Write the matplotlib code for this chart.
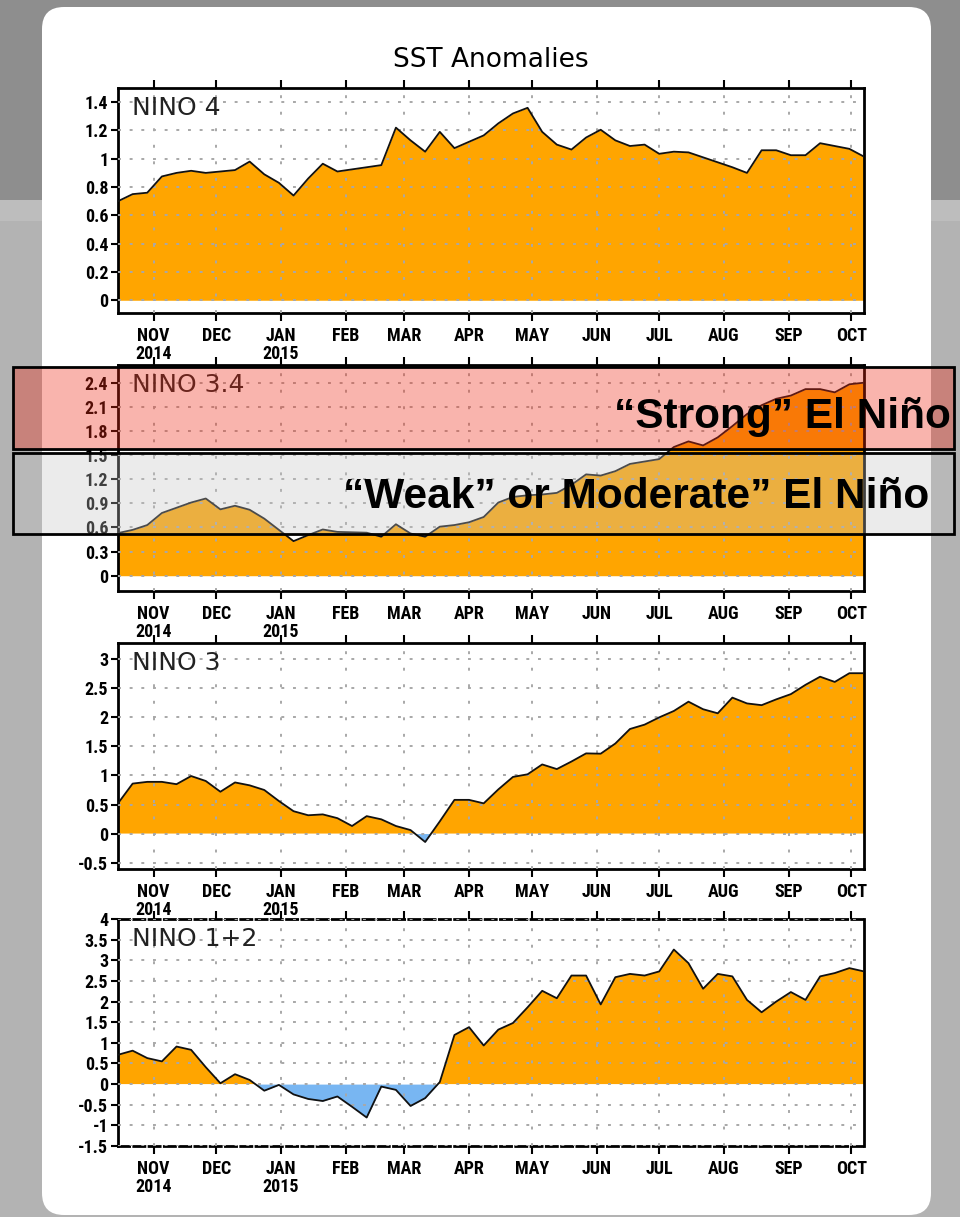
import datetime as dt
import numpy as np
import matplotlib
matplotlib.use("Agg")
from matplotlib import pyplot as plt
from matplotlib import dates as mdates
from matplotlib import font_manager
from matplotlib.patches import Rectangle, FancyBboxPatch

plt.rcParams['axes.unicode_minus'] = False

# weekly OISST anomalies, one value per Wednesday, 15 Oct 2014 .. 7 Oct 2015
first_week = dt.date(2014, 10, 15)
weeks = [first_week + dt.timedelta(days=7 * i) for i in range(52)]

nino4 = [0.70, 0.75, 0.76, 0.875, 0.90, 0.915, 0.90, 0.91, 0.92, 0.98,
         0.89, 0.83, 0.74, 0.86, 0.965, 0.91, 0.925, 0.94, 0.955, 1.22,
         1.13, 1.05, 1.19, 1.075, 1.12, 1.165, 1.25, 1.32, 1.36, 1.19,
         1.10, 1.065, 1.15, 1.205, 1.13, 1.09, 1.10, 1.035, 1.05, 1.045,
         1.01, 0.975, 0.94, 0.90, 1.06, 1.06, 1.025, 1.025, 1.11, 1.09,
         1.07, 1.015]

nino34 = [0.53, 0.57, 0.63, 0.78, 0.845, 0.91, 0.96, 0.825, 0.87, 0.82,
          0.71, 0.57, 0.43, 0.505, 0.575, 0.545, 0.54, 0.535, 0.485, 0.64,
          0.525, 0.485, 0.61, 0.63, 0.665, 0.73, 0.91, 0.98, 1.00, 1.01,
          1.03, 1.13, 1.26, 1.245, 1.30, 1.39, 1.42, 1.45, 1.60, 1.67,
          1.62, 1.72, 1.86, 2.01, 2.12, 2.20, 2.24, 2.32, 2.32, 2.28,
          2.38, 2.40]

nino3 = [0.52, 0.86, 0.89, 0.89, 0.85, 0.99, 0.905, 0.72, 0.88, 0.83,
         0.75, 0.56, 0.385, 0.315, 0.33, 0.265, 0.13, 0.30, 0.245, 0.13,
         0.06, -0.145, 0.21, 0.58, 0.58, 0.52, 0.76, 0.975, 1.02, 1.19,
         1.11, 1.24, 1.38, 1.375, 1.55, 1.80, 1.875, 2.00, 2.11, 2.27,
         2.14, 2.07, 2.34, 2.24, 2.21, 2.31, 2.40, 2.56, 2.70, 2.61,
         2.76, 2.76]

nino12 = [0.71, 0.81, 0.63, 0.55, 0.91, 0.83, 0.41, 0.02, 0.24, 0.10,
          -0.16, -0.02, -0.25, -0.36, -0.41, -0.30, -0.55, -0.81, -0.06, -0.14,
          -0.53, -0.34, 0.05, 1.19, 1.38, 0.935, 1.32, 1.48, 1.86, 2.26,
          2.08, 2.63, 2.63, 1.93, 2.59, 2.67, 2.63, 2.73, 3.26, 2.93,
          2.31, 2.67, 2.61, 2.04, 1.74, 2.00, 2.23, 2.04, 2.61, 2.69,
          2.81, 2.73]

month_ticks = [dt.date(2014, 11, 1), dt.date(2014, 12, 1), dt.date(2015, 1, 1),
               dt.date(2015, 2, 1), dt.date(2015, 3, 1), dt.date(2015, 4, 1),
               dt.date(2015, 5, 1), dt.date(2015, 6, 1), dt.date(2015, 7, 1),
               dt.date(2015, 8, 1), dt.date(2015, 9, 1), dt.date(2015, 10, 1)]
month_labels = ["NOV\n2014", "DEC", "JAN\n2015", "FEB", "MAR", "APR",
                "MAY", "JUN", "JUL", "AUG", "SEP", "OCT"]

ticks4 = [0, 0.2, 0.4, 0.6, 0.8, 1.0, 1.2, 1.4]
ticks34 = [0, 0.3, 0.6, 0.9, 1.2, 1.5, 1.8, 2.1, 2.4]
ticks3 = [-0.5, 0, 0.5, 1, 1.5, 2, 2.5, 3]
ticks12 = [-1.5, -1, -0.5, 0, 0.5, 1, 1.5, 2, 2.5, 3, 3.5, 4]


def pick_font(names):
    for n in names:
        try:
            font_manager.findfont(font_manager.FontProperties(family=n),
                                  fallback_to_default=False)
            return n
        except ValueError:
            pass
    return 'DejaVu Sans'


narrow = pick_font(['Liberation Sans Narrow', 'Roboto Condensed', 'DejaVu Sans Condensed'])
arial = pick_font(['Liberation Sans', 'Arimo', 'DejaVu Sans'])

W, H = 960, 1217
fig = plt.figure(figsize=(W / 100, H / 100), dpi=100)

# background: grey page + white rounded card
bg = fig.add_axes([0, 0, 1, 1], zorder=-10)
bg.set_xlim(0, W)
bg.set_ylim(H, 0)
bg.axis('off')
bg.add_patch(Rectangle((0, 0), W, 200, color='#8e8e8e', lw=0))
bg.add_patch(Rectangle((0, 200), W, 21, color='#bdbdbd', lw=0))
bg.add_patch(Rectangle((0, 221), W, H - 221, color='#b3b3b3', lw=0))
bg.add_patch(FancyBboxPatch((42, 7), 889, 1208, boxstyle="round,pad=0,rounding_size=22",
                            facecolor='white', edgecolor='none'))

panels = [
    ("NINO 4", nino4, ticks4, (-0.09, 1.5), 88, 313),
    ("NINO 3.4", nino34, ticks34, (-0.19, 2.62), 365, 591),
    ("NINO 3", nino3, ticks3, (-0.61, 3.28), 643, 869),
    ("NINO 1+2", nino12, ticks12, (-1.5, 4.0), 919, 1146),
]

x = mdates.date2num(weeks)
xt = mdates.date2num(month_ticks)

for name, vals, yt, ylim, top, bottom in panels:
    ax = fig.add_axes([118 / W, 1 - bottom / H, 746 / W, (bottom - top) / H])
    ax.set_facecolor('white')
    v = np.array(vals)
    ax.fill_between(x, v, 0, where=v >= 0, interpolate=True, color='#ffa500', lw=0, zorder=1)
    ax.fill_between(x, v, 0, where=v <= 0, interpolate=True, color='#78b6f2', lw=0, zorder=1)
    ax.plot(x, v, color='#111111', lw=1.3, zorder=3)

    ax.set_xlim(x[0], x[-1])
    ax.set_ylim(*ylim)
    ax.set_xticks(xt)
    ax.set_xticklabels(month_labels, linespacing=1.0)
    ax.set_yticks(yt)
    ax.set_yticklabels([f'{t:g}' for t in yt])
    ax.set_axisbelow(False)
    ax.yaxis.grid(True, color='#a8a8a8', linestyle=(0, (1.5, 4.5)), lw=1.4)
    ax.xaxis.grid(True, color='#a8a8a8', linestyle=(0, (1.5, 7)), lw=1.4)
    for s in ax.spines.values():
        s.set_linewidth(2)
    if ylim == (-1.5, 4.0):
        # frame edges sit on grid lines here and come out dashed
        ax.spines['top'].set_linestyle((0, (4, 1.5)))
        ax.spines['bottom'].set_linestyle((0, (4, 1.5)))
    ax.tick_params(axis='y', direction='out', length=5, width=1.5, pad=2)
    ax.tick_params(axis='x', direction='out', length=6, width=1.5, pad=4, top=True)
    for lbl in ax.get_xticklabels() + ax.get_yticklabels():
        lbl.set_fontfamily(narrow)
        lbl.set_fontweight('bold')
        lbl.set_fontsize(13)
    ax.text(14 / 746, 1 - 8 / (bottom - top), name, transform=ax.transAxes,
            ha='left', va='top', fontsize=18, color='#222222')

fig.text(491 / W, 1 - 60 / H, "SST Anomalies", ha='center', va='center', fontsize=19)

# El Niño strength bands over the Niño 3.4 panel
ov = fig.add_axes([0, 0, 1, 1], zorder=10)
ov.set_xlim(0, W)
ov.set_ylim(H, 0)
ov.patch.set_alpha(0)
ov.axis('off')
ov.add_patch(Rectangle((13, 367), 941, 82, facecolor=(0.94, 0.16, 0.08, 0.35),
                       edgecolor='black', lw=2))
ov.add_patch(Rectangle((13, 453), 941, 81, facecolor=(0.77, 0.77, 0.77, 0.33),
                       edgecolor='black', lw=2))
ov.text(951, 428, "“Strong” El Niño", ha='right', va='baseline',
        fontsize=30.5, fontweight='bold', family=arial, color='black')
ov.text(929, 508, "“Weak” or Moderate” El Niño", ha='right', va='baseline',
        fontsize=30.5, fontweight='bold', family=arial, color='black')

fig.savefig("out.png", dpi=100)
